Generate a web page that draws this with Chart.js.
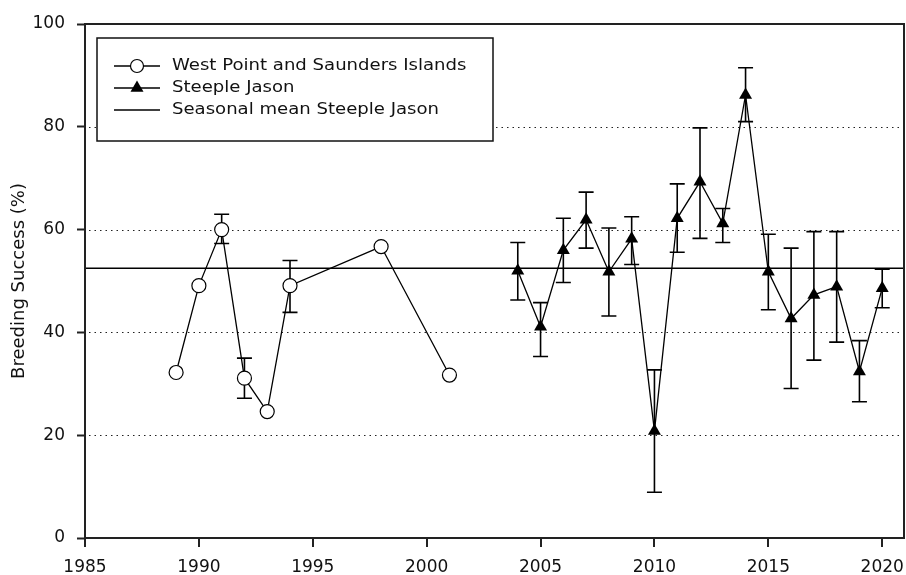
<!DOCTYPE html>
<html>
<head>
<meta charset="utf-8">
<script src="https://cdn.jsdelivr.net/npm/chart.js@4/dist/chart.umd.min.js"></script>
<style>
  html, body { margin: 0; padding: 0; background: #fff; }
  canvas { display: block; }
</style>
</head>
<body>
<canvas id="breedingChart" width="906" height="575"></canvas>
<script>
// West Point and Saunders Islands (open circles)
const wpYears = [1989, 1990, 1991, 1992, 1993, 1994, 1998, 2001];
const wpValues = [32.2, 49.1, 60.0, 31.1, 24.6, 49.1, 56.7, 31.7];
const wpUpper = [null, null, 63.0, 35.0, null, 54.0, null, null];
const wpLower = [null, null, 57.3, 27.2, null, 43.9, null, null];

// Steeple Jason (filled triangles)
const sjYears = [2004, 2005, 2006, 2007, 2008, 2009, 2010, 2011, 2012, 2013, 2014, 2015, 2016, 2017, 2018, 2019, 2020];
const sjValues = [52.0, 41.1, 56.0, 61.9, 51.8, 58.2, 20.8, 62.2, 69.3, 61.2, 86.2, 51.8, 42.7, 47.3, 48.9, 32.4, 48.6];
const sjUpper = [57.5, 45.8, 62.2, 67.3, 60.3, 62.5, 32.7, 68.9, 79.8, 64.1, 91.5, 59.1, 56.4, 59.6, 59.6, 38.4, 52.3];
const sjLower = [46.3, 35.3, 49.7, 56.4, 43.2, 53.2, 8.9, 55.6, 58.3, 57.5, 81.0, 44.4, 29.1, 34.6, 38.1, 26.5, 44.8];

// Seasonal mean Steeple Jason
const sjMean = 52.5;

const xMin = 1985, xMax = 2021;
const yTicks = [0, 20, 40, 60, 80, 100];

const legendLabels = ['West Point and Saunders Islands', 'Steeple Jason', 'Seasonal mean Steeple Jason'];

const FONT = '"DejaVu Sans", sans-serif';

function toPoints(xs, ys) {
    return xs.map((x, i) => ({ x: x, y: ys[i] }));
}

// dotted grid + error bars under the data
const underlayPlugin = {
    id: 'underlay',
    beforeDatasetsDraw(chart) {
        const ctx = chart.ctx;
        const area = chart.chartArea;
        const xs = chart.scales.x, ys = chart.scales.y;
        ctx.save();
        ctx.strokeStyle = '#222';
        ctx.lineWidth = 1;
        ctx.setLineDash([1.5, 4]);
        yTicks.forEach(v => {
            if (v === 0 || v === 100) return;
            const py = Math.round(ys.getPixelForValue(v)) + 0.5;
            ctx.beginPath();
            ctx.moveTo(area.left + 4, py);
            ctx.lineTo(area.right, py);
            ctx.stroke();
        });
        ctx.setLineDash([]);
        ctx.strokeStyle = '#000';
        ctx.lineWidth = 1.6;
        chart.data.datasets.forEach(ds => {
            if (!ds.errHi) return;
            ds.data.forEach((p, i) => {
                const hi = ds.errHi[i], lo = ds.errLo[i];
                if (hi == null || lo == null) return;
                const px = xs.getPixelForValue(p.x);
                const pTop = ys.getPixelForValue(hi);
                const pBot = ys.getPixelForValue(lo);
                ctx.beginPath();
                ctx.moveTo(px, pTop);
                ctx.lineTo(px, pBot);
                ctx.moveTo(px - 7.5, pTop);
                ctx.lineTo(px + 7.5, pTop);
                ctx.moveTo(px - 7.5, pBot);
                ctx.lineTo(px + 7.5, pBot);
                ctx.stroke();
            });
        });
        ctx.restore();
    }
};

// legend box, frame and x tick marks
const overlayPlugin = {
    id: 'overlay',
    afterDatasetsDraw(chart) {
        const ctx = chart.ctx;
        const area = chart.chartArea;
        const bx = area.left + 12, by = area.top + 14, bw = 396, bh = 103;
        ctx.save();
        ctx.fillStyle = '#fff';
        ctx.fillRect(bx, by, bw, bh);
        ctx.strokeStyle = '#111';
        ctx.lineWidth = 1.5;
        ctx.strokeRect(bx, by, bw, bh);

        const rows = [by + 28, by + 50, by + 72];
        const lx0 = bx + 17, lx1 = bx + 63, mx = bx + 40;
        ctx.strokeStyle = '#000';
        ctx.lineWidth = 1.5;
        rows.forEach(ry => {
            ctx.beginPath();
            ctx.moveTo(lx0, ry);
            ctx.lineTo(lx1, ry);
            ctx.stroke();
        });
        // circle marker
        ctx.beginPath();
        ctx.arc(mx, rows[0], 6.5, 0, Math.PI * 2);
        ctx.fillStyle = '#fff';
        ctx.fill();
        ctx.lineWidth = 1.2;
        ctx.stroke();
        // triangle marker
        const r = 7.5;
        ctx.beginPath();
        ctx.moveTo(mx, rows[1] - r);
        ctx.lineTo(mx + r * 0.866, rows[1] + r * 0.5);
        ctx.lineTo(mx - r * 0.866, rows[1] + r * 0.5);
        ctx.closePath();
        ctx.fillStyle = '#000';
        ctx.fill();

        ctx.font = '16px ' + FONT;
        ctx.fillStyle = '#111';
        ctx.textBaseline = 'middle';
        legendLabels.forEach((t, i) => {
            ctx.save();
            ctx.translate(bx + 75, rows[i]);
            ctx.scale(1.13, 1);
            ctx.fillText(t, 0, 0);
            ctx.restore();
        });
        ctx.restore();
    },
    afterDraw(chart) {
        const ctx = chart.ctx;
        const a = chart.chartArea;
        const xs = chart.scales.x;
        ctx.save();
        ctx.strokeStyle = '#222';
        ctx.lineWidth = 2;
        ctx.beginPath();
        xs.ticks.forEach(t => {
            const px = Math.round(xs.getPixelForValue(t.value));
            ctx.moveTo(px, a.bottom);
            ctx.lineTo(px, a.bottom + 9);
        });
        ctx.stroke();
        ctx.strokeRect(a.left, a.top, a.right - a.left - 1, a.bottom - a.top);
        ctx.restore();
    }
};

const chart = new Chart(document.getElementById('breedingChart').getContext('2d'), {
    type: 'line',
    data: {
        datasets: [{
            label: legendLabels[0],
            data: toPoints(wpYears, wpValues),
            errHi: wpUpper,
            errLo: wpLower,
            borderColor: '#000',
            borderWidth: 1.3,
            pointStyle: 'circle',
            pointRadius: 7,
            pointBackgroundColor: '#fff',
            pointBorderColor: '#000',
            pointBorderWidth: 1.2,
            order: 1
        }, {
            label: legendLabels[1],
            data: toPoints(sjYears, sjValues),
            errHi: sjUpper,
            errLo: sjLower,
            borderColor: '#000',
            borderWidth: 1.3,
            pointStyle: 'triangle',
            pointRadius: 7.5,
            pointBackgroundColor: '#000',
            pointBorderColor: '#000',
            pointBorderWidth: 0,
            order: 2
        }, {
            label: legendLabels[2],
            data: [{ x: xMin, y: sjMean }, { x: xMax, y: sjMean }],
            borderColor: '#000',
            borderWidth: 1.5,
            pointRadius: 0,
            order: 3
        }]
    },
    options: {
        responsive: false,
        devicePixelRatio: 1,
        animation: false,
        layout: { autoPadding: false, padding: { top: 24, right: 1, left: 0, bottom: 0 } },
        plugins: {
            legend: { display: false },
            tooltip: { enabled: false }
        },
        scales: {
            x: {
                type: 'linear',
                min: xMin,
                max: xMax,
                afterFit(scale) { scale.height = 37; },
                border: { display: false },
                grid: { drawOnChartArea: false, drawTicks: true, tickLength: 19, tickColor: 'rgba(0,0,0,0)' },
                ticks: {
                    stepSize: 5,
                    includeBounds: false,
                    maxRotation: 0,
                    padding: 0,
                    color: '#111',
                    font: { family: FONT, size: 17 },
                    callback: v => String(v)
                }
            },
            y: {
                min: 0,
                max: 100,
                afterFit(scale) { scale.width = 85; },
                border: { display: false },
                grid: { drawOnChartArea: false, drawTicks: true, tickLength: 8, tickColor: '#222', tickWidth: 2 },
                ticks: {
                    stepSize: 20,
                    padding: 12,
                    color: '#111',
                    font: { family: FONT, size: 17 },
                    callback: v => String(v)
                },
                title: {
                    display: true,
                    text: 'Breeding Success (%)',
                    color: '#111',
                    font: { family: FONT, size: 18 },
                    padding: { top: 9, bottom: 0 }
                }
            }
        }
    },
    plugins: [underlayPlugin, overlayPlugin]
});
</script>
</body>
</html>
